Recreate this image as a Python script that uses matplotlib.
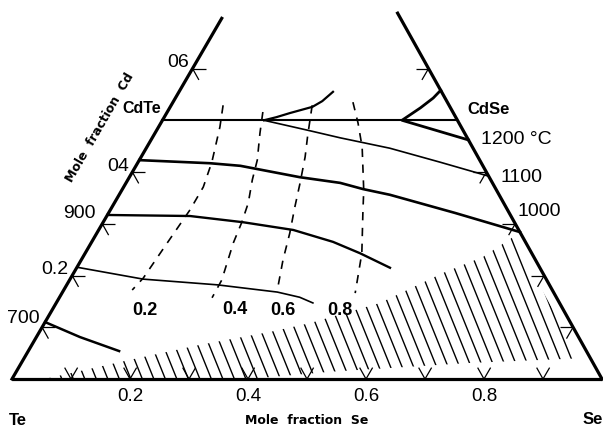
import numpy as np
import matplotlib
matplotlib.use('Agg')
from matplotlib import pyplot as plt
from matplotlib.patches import Polygon
from matplotlib.collections import LineCollection

# drawn triangle: Te at (0,0), Se at (1,0), Cd apex at (APEX_X, APEX_Y)
APEX_X = 0.51
APEX_Y = 0.877

NUM_FONT = ['Liberation Sans', 'DejaVu Sans']
BOLD_FONT = ['Liberation Sans', 'DejaVu Sans']

# visible part of the two side edges (mole fraction Cd at the top cut)
left_top_cd = 0.697
right_top_cd = 0.707

# edge grid ticks
bottom_ticks = [0.1, 0.2, 0.3, 0.4, 0.5, 0.6, 0.7, 0.8, 0.9]
side_ticks = [0.1, 0.2, 0.3, 0.4, 0.6]
bottom_labels = ['0.2', '0.4', '0.6', '0.8']
bottom_label_at = [0.2, 0.4, 0.6, 0.8]
left_labels = ['06', '04', '0.2']
left_label_at = [0.6, 0.4, 0.2]

# CdTe - CdSe section
pseudo_cd = 0.5

# isotherms, (mole fraction Se, mole fraction Cd)
iso_1200_se = [0.442, 0.437, 0.425, 0.406, 0.538]
iso_1200_cd = [0.558, 0.543, 0.524, 0.500, 0.462]
iso_1100_hi_se = [0.172, 0.190, 0.209, 0.241, 0.252, 0.261]
iso_1100_hi_cd = [0.500, 0.506, 0.514, 0.526, 0.537, 0.555]
iso_1100_lo_se = [0.172, 0.255, 0.319, 0.413, 0.512, 0.608]
iso_1100_lo_cd = [0.500, 0.481, 0.466, 0.446, 0.419, 0.392]
iso_1000_se = [0.0, 0.123, 0.177, 0.238, 0.289, 0.363, 0.408, 0.459, 0.587, 0.716]
iso_1000_cd = [0.423, 0.417, 0.412, 0.400, 0.390, 0.379, 0.367, 0.356, 0.321, 0.284]
iso_900_se = [0.0, 0.141, 0.237, 0.330, 0.409, 0.466, 0.531]
iso_900_cd = [0.317, 0.315, 0.303, 0.288, 0.265, 0.243, 0.215]
iso_800_se = [0.0, 0.124, 0.255, 0.364, 0.407, 0.435]
iso_800_cd = [0.216, 0.193, 0.182, 0.168, 0.158, 0.147]
iso_700_se = [0.0, 0.074, 0.154]
iso_700_cd = [0.110, 0.081, 0.054]

# dashed composition lines 0.2 .. 0.8
x02_se = [0.088, 0.104, 0.125, 0.135, 0.135, 0.129, 0.123, 0.116]
x02_cd = [0.529, 0.487, 0.419, 0.371, 0.327, 0.263, 0.195, 0.172]
x04_se = [0.162, 0.178, 0.200, 0.211, 0.227, 0.235, 0.241, 0.258, 0.259]
x04_cd = [0.516, 0.475, 0.423, 0.385, 0.340, 0.303, 0.263, 0.191, 0.157]
x06_se = [0.239, 0.261, 0.278, 0.295, 0.310, 0.327, 0.342, 0.362]
x06_cd = [0.529, 0.471, 0.429, 0.379, 0.332, 0.282, 0.230, 0.172]
x08_se = [0.305, 0.334, 0.365, 0.410, 0.431, 0.469, 0.497]
x08_cd = [0.535, 0.495, 0.448, 0.365, 0.321, 0.243, 0.166]
dash_labels = ['0.2', '0.4', '0.6', '0.8']

# hatched field, upper boundary then inner lower boundary
hatch_top_se = [0.055, 0.181, 0.285, 0.391, 0.450, 0.549, 0.626, 0.678, 0.709]
hatch_top_cd = [0.0, 0.037, 0.066, 0.091, 0.108, 0.147, 0.205, 0.236, 0.274]
hatch_low_se = [0.942, 0.760, 0.532, 0.401]
hatch_low_cd = [0.040, 0.031, 0.014, 0.0]


def tern(se, cd):
    se = np.asarray(se, dtype=float)
    cd = np.asarray(cd, dtype=float)
    return se + APEX_X * cd, APEX_Y * cd


def pt(se, cd):
    x, y = tern(se, cd)
    return float(x), float(y)


def main():
    fig = plt.figure(figsize=(6.03, 4.30), dpi=100)
    ax = fig.add_axes([0, 0, 1, 1])
    ax.set_xlim(-12 / 590, 591 / 590)
    ax.set_ylim(-51 / 590, 379 / 590)
    ax.axis('off')

    # triangle edges
    ax.plot(*tern([0, 1], [0, 0]), color='black', lw=2.3, solid_capstyle='butt')
    ax.plot(*tern([0, 0], [0, left_top_cd]), color='black', lw=2.3)
    ax.plot(*tern([1, 1 - right_top_cd], [0, right_top_cd]), color='black', lw=2.3)

    # grid ticks along the edges
    L = 0.022
    segs = []
    for s in bottom_ticks:
        v = pt(s, 0)
        segs += [[v, pt(s, L)], [v, pt(s - L, L)]]
    for c in side_ticks:
        v = pt(0, c)
        segs += [[v, pt(L, c)], [v, pt(L, c - L)]]
        v = pt(1 - c, c)
        segs += [[v, pt(1 - c - L, c)], [v, pt(1 - c, c - L)]]
    ax.add_collection(LineCollection(segs, colors='black', linewidths=0.9))

    # hatched field, lines clipped to its outline
    outline = np.column_stack(tern(hatch_top_se + hatch_low_se,
                                   hatch_top_cd + hatch_low_cd))
    field = Polygon(outline, closed=True, facecolor='none', edgecolor='none',
                    transform=ax.transData)
    ax.add_patch(field)
    ang = np.radians(68)
    hx = []
    for x0 in np.arange(-0.2, 1.3, 0.0195):
        hx.append([(x0, -0.02), (x0 - 0.4 * np.cos(ang), -0.02 + 0.4 * np.sin(ang))])
    hatch = LineCollection(hx, colors='black', linewidths=1.0)
    ax.add_collection(hatch)
    hatch.set_clip_path(field)

    # CdTe - CdSe section
    ax.plot(*tern([0, 1 - pseudo_cd], [pseudo_cd, pseudo_cd]), color='black', lw=1.5)

    # isotherms
    ax.plot(*tern(iso_1200_se, iso_1200_cd), color='black', lw=2.0)
    ax.plot(*tern(iso_1100_hi_se, iso_1100_hi_cd), color='black', lw=1.6)
    ax.plot(*tern(iso_1100_lo_se, iso_1100_lo_cd), color='black', lw=1.2)
    ax.plot(*tern(iso_1000_se, iso_1000_cd), color='black', lw=1.9)
    ax.plot(*tern(iso_900_se, iso_900_cd), color='black', lw=1.7)
    ax.plot(*tern(iso_800_se, iso_800_cd), color='black', lw=1.2)
    ax.plot(*tern(iso_700_se, iso_700_cd), color='black', lw=1.8)

    # dashed composition lines
    dashed = [(x02_se, x02_cd), (x04_se, x04_cd), (x06_se, x06_cd), (x08_se, x08_cd)]
    for se, cd in dashed:
        ax.plot(*tern(se, cd), color='black', lw=1.2, linestyle=(0, (5, 4.5)))
    dash_offsets = [(9.4, -14.4), (16.6, -8.6), (4.3, -14.4), (-10.8, -12.2)]
    for lab, (se, cd), off in zip(dash_labels, dashed, dash_offsets):
        ax.annotate(lab, pt(se[-1], cd[-1]), xytext=off, textcoords='offset points',
                    ha='center', va='center', fontsize=13, fontweight='bold',
                    family=BOLD_FONT)

    # axis numbers
    for lab, s in zip(bottom_labels, bottom_label_at):
        ax.annotate(lab, pt(s, 0), xytext=(0, -12.5), textcoords='offset points',
                    ha='center', va='center', fontsize=13.5, family=NUM_FONT)
    for lab, c in zip(left_labels, left_label_at):
        ax.annotate(lab, pt(0, c), xytext=(-2.5, 4), textcoords='offset points',
                    ha='right', va='center', fontsize=14, family=NUM_FONT)

    # temperatures
    iso_labels = [
        ('900', pt(iso_900_se[0], iso_900_cd[0]), (-8.6, 1.4), 'right'),
        ('700', pt(iso_700_se[0], iso_700_cd[0]), (-4.3, 2.9), 'right'),
        ('1200 \u00b0C', pt(iso_1200_se[-1], iso_1200_cd[-1]), (9.4, 0), 'left'),
        ('1100', pt(iso_1100_lo_se[-1], iso_1100_lo_cd[-1]), (8.6, -0.7), 'left'),
        ('1000', pt(iso_1000_se[-1], iso_1000_cd[-1]), (-1.4, 15), 'left'),
    ]
    for lab, xy, off, ha in iso_labels:
        ax.annotate(lab, xy, xytext=off, textcoords='offset points',
                    ha=ha, va='center', fontsize=14, family=NUM_FONT)

    # compounds and elements
    ax.annotate('CdTe', pt(0, pseudo_cd), xytext=(-1.4, 8.6), textcoords='offset points',
                ha='right', va='center', fontsize=11.5, fontweight='bold', family=BOLD_FONT)
    ax.annotate('CdSe', pt(1 - pseudo_cd, pseudo_cd), xytext=(6.8, 7.9),
                textcoords='offset points', ha='left', va='center', fontsize=12,
                fontweight='bold', family=BOLD_FONT)
    ax.annotate('Te', pt(0, 0), xytext=(4.3, -30.2), textcoords='offset points',
                ha='center', va='center', fontsize=12, fontweight='bold', family=BOLD_FONT)
    ax.annotate('Se', pt(1, 0), xytext=(-6.5, -29.5), textcoords='offset points',
                ha='center', va='center', fontsize=12, fontweight='bold', family=BOLD_FONT)

    fig.text(307 / 603, 1 - 421 / 430, 'Mole  fraction  Se', ha='center', va='center',
             fontsize=9, fontweight='bold', family='DejaVu Sans')
    fig.text(100 / 603, 1 - 128 / 430, 'Mole  fraction  Cd', ha='center', va='center',
             rotation=60, fontsize=9, fontweight='bold', family='DejaVu Sans')

    fig.savefig('out.png', dpi=100)


if __name__ == '__main__':
    main()
